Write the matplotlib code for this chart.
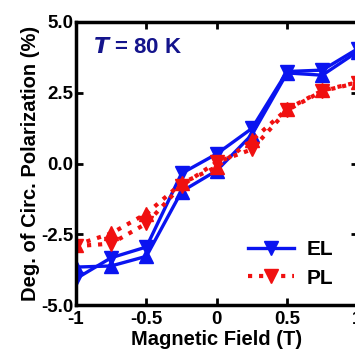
import matplotlib
matplotlib.use("Agg")
import matplotlib.pyplot as plt
from matplotlib.lines import Line2D

field = [-1, -0.75, -0.5, -0.25, 0, 0.25, 0.5, 0.75, 1]
el_up = [-3.66, -3.62, -3.28, -0.99, -0.25, 1.02, 3.20, 3.12, 3.95]
el_down = [-4.07, -3.33, -2.95, -0.35, 0.34, 1.24, 3.25, 3.30, 4.05]
pl_up = [-2.88, -2.47, -1.77, -0.70, -0.12, 0.82, 1.92, 2.58, 2.87]
pl_down = [-2.92, -2.83, -2.12, -0.78, 0.05, 0.50, 1.88, 2.56, 2.85]
xticks = [-1, -0.5, 0, 0.5, 1]
xticklabels = ["-1", "-0.5", "0", "0.5", "1"]
yticks = [-5.0, -2.5, 0.0, 2.5, 5.0]
yticklabels = ["-5.0", "-2.5", "0.0", "2.5", "5.0"]

plt.rcParams['font.family'] = ['Liberation Sans', 'DejaVu Sans']
plt.rcParams['font.weight'] = 'bold'

fig = plt.figure(figsize=(3.55, 3.52), dpi=100)
ax = fig.add_axes([76/355, 1 - 305/352, (357.5-76)/355, (305-22)/352])

blue = '#0a14f0'
red = '#f01010'
ms = 10
ax.plot(field, el_up, '-', color=blue, lw=2.4, marker='^', ms=ms, mec=blue, mfc=blue)
ax.plot(field, el_down, '-', color=blue, lw=2.4, marker='v', ms=ms, mec=blue, mfc=blue)
ax.plot(field, pl_up, ':', color=red, lw=3, marker='^', ms=ms, mec=red, mfc=red)
ax.plot(field, pl_down, ':', color=red, lw=3, marker='v', ms=ms, mec=red, mfc=red)

ax.set_xlim(-1, 1)
ax.set_ylim(-5, 5)
ax.set_xticks(xticks)
ax.set_xticklabels(xticklabels)
ax.set_yticks(yticks)
ax.set_yticklabels(yticklabels)
ax.tick_params(direction='in', length=5, width=2, labelsize=13.5, pad=2,
               top=True, right=True)
ax.tick_params(axis='x', pad=4)
for lab in ax.get_xticklabels() + ax.get_yticklabels():
    lab.set_fontweight('bold')
for s in ax.spines.values():
    s.set_linewidth(2.5)

ax.set_xlabel('Magnetic Field (T)', fontsize=14.5, fontweight='bold', labelpad=2)
ax.set_ylabel('Deg. of Circ. Polarization (%)', fontsize=14.5, fontweight='bold', labelpad=1)

ax.text(0.06, 0.91, r'$\mathbf{\mathit{T}}$ = 80 K', transform=ax.transAxes,
        fontsize=16, fontweight='bold', color='#14148c', va='center', ha='left')

handles = [
    Line2D([], [], color=blue, lw=2.4, ls='-', marker='v', ms=ms),
    Line2D([], [], color=red, lw=3, ls=':', marker='v', ms=ms),
]
ax.legend(handles, ['EL', 'PL'], loc='lower right', bbox_to_anchor=(0.98, -0.005),
          frameon=False, prop={'size': 15, 'weight': 'bold'},
          handlelength=2.2, handletextpad=0.6, labelspacing=0.45)

fig.savefig('out.png', dpi=100)
